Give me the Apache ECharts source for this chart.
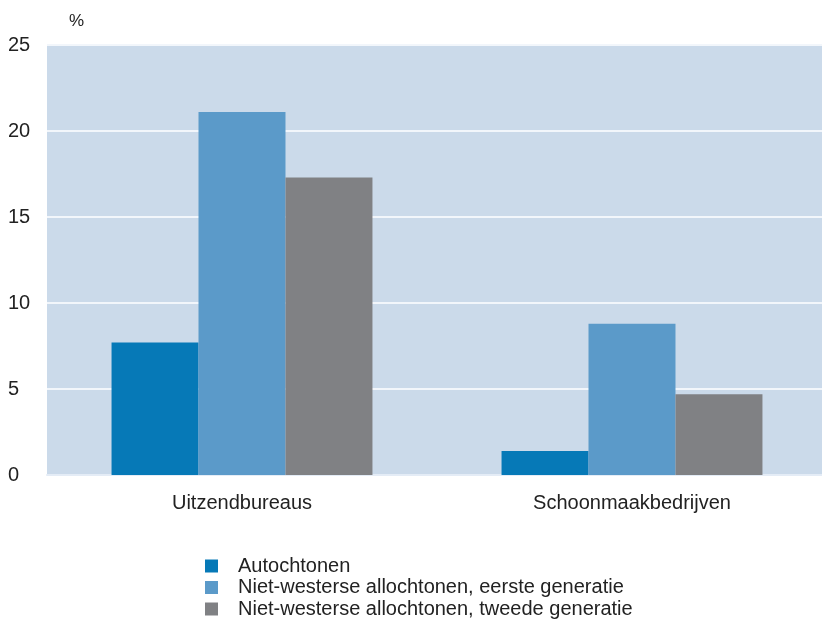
<!DOCTYPE html>
<html>
<head>
<meta charset="utf-8">
<script src="https://cdn.jsdelivr.net/npm/echarts@6/dist/echarts.min.js"></script>
<style>
  html, body { margin: 0; padding: 0; background: #fff; overflow: hidden; }
  /* a little wider than the window: the plot area runs past the right edge */
  #chart { width: 827px; height: 621px; }
</style>
</head>
<body>
<div id="chart"></div>
<script>
var categories = ['Uitzendbureaus', 'Schoonmaakbedrijven']
var seriesNames = ['Autochtonen', 'Niet-westerse allochtonen, eerste generatie', 'Niet-westerse allochtonen, tweede generatie']
var autochtonen = [7.7, 1.4]
var eersteGeneratie = [21.1, 8.8]
var tweedeGeneratie = [17.3, 4.7]
var colors = ['#0679B7', '#5B9AC9', '#808184']

var fontFamily = '"Liberation Sans", Arial, sans-serif'
var chart = echarts.init(document.getElementById('chart'))

var values = [autochtonen, eersteGeneratie, tweedeGeneratie]
var series = []
var legends = []
for (var i = 0; i < values.length; i++) {
  series.push({
    name: seriesNames[i],
    type: 'bar',
    data: values[i],
    barWidth: '22.3%',
    barGap: '0%',
    itemStyle: { color: colors[i] }
  })
  // one legend per row so the list never wraps into columns
  legends.push({
    left: 205,
    top: 556 + i * 21.5,
    padding: 0,
    itemWidth: 13,
    itemHeight: 13,
    icon: 'rect',
    data: [seriesNames[i]],
    textStyle: { fontFamily: fontFamily, fontSize: 20, color: '#222', padding: [0, 0, 0, 15] }
  })
}

chart.setOption({
  animation: false,
  color: colors,
  title: {
    text: '%',
    left: 64,
    top: 8,
    textStyle: { fontFamily: fontFamily, fontSize: 17, fontWeight: 'normal', color: '#222' }
  },
  grid: {
    left: 47,
    right: 0,
    top: 45,
    bottom: 146,
    show: true,
    backgroundColor: '#CBDAEA',
    borderWidth: 0
  },
  legend: legends,
  xAxis: {
    type: 'category',
    data: categories,
    axisTick: { show: false },
    axisLine: { show: true, lineStyle: { color: '#E4ECF6', width: 2 } },
    axisLabel: { margin: 18, fontFamily: fontFamily, fontSize: 20, color: '#222' }
  },
  yAxis: {
    type: 'value',
    min: 0,
    max: 25,
    interval: 5,
    axisLine: { show: false },
    axisTick: { show: false },
    splitLine: { lineStyle: { color: '#F2F6FB', width: 2 } },
    axisLabel: { margin: 39, align: 'left', fontFamily: fontFamily, fontSize: 20, color: '#222' }
  },
  series: series
})
</script>
</body>
</html>
